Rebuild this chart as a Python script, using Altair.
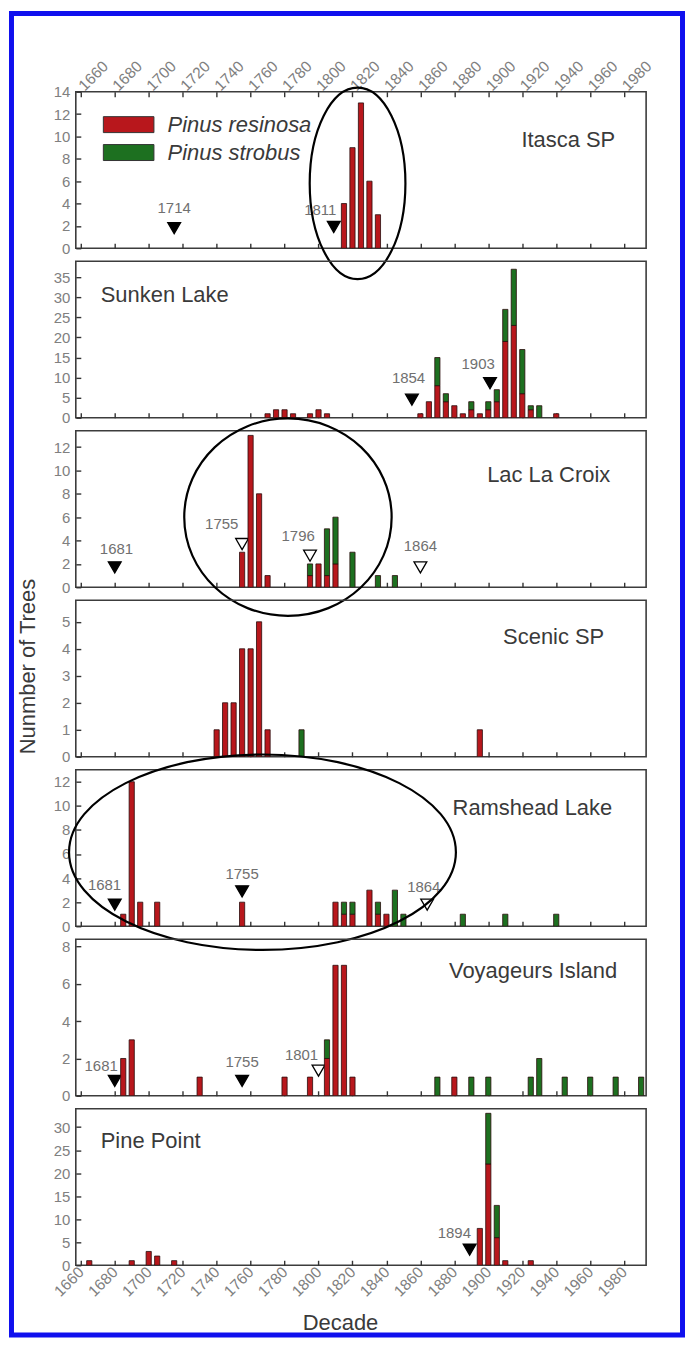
import altair as alt
import pandas as pd

# ---------------- data ----------------
SITES = ["Itasca SP", "Sunken Lake", "Lac La Croix", "Scenic SP",
         "Ramshead Lake", "Voyageurs Island", "Pine Point"]
SPECIES = ["Pinus resinosa", "Pinus strobus"]
X_TICKS = list(range(1660, 1981, 20))

# trees per 5-year class (class year: count)
RESINOSA = {
    "Itasca SP": {1815: 4, 1820: 9, 1825: 13, 1830: 6, 1835: 3},
    "Sunken Lake": {1770: 1, 1775: 2, 1780: 2, 1785: 1, 1795: 1, 1800: 2, 1805: 1,
                    1860: 1, 1865: 4, 1870: 8, 1875: 4, 1880: 3, 1885: 1, 1890: 2,
                    1895: 1, 1900: 2, 1905: 4, 1910: 19, 1915: 23, 1920: 6, 1925: 2,
                    1940: 1},
    "Lac La Croix": {1755: 3, 1760: 13, 1765: 8, 1770: 1, 1795: 1, 1800: 2, 1805: 1,
                     1810: 2},
    "Scenic SP": {1740: 1, 1745: 2, 1750: 2, 1755: 4, 1760: 4, 1765: 5, 1770: 1,
                  1895: 1},
    "Ramshead Lake": {1685: 1, 1690: 12, 1695: 2, 1705: 2, 1755: 2, 1810: 2, 1815: 1,
                      1820: 1, 1830: 3, 1835: 1, 1840: 1},
    "Voyageurs Island": {1685: 2, 1690: 3, 1730: 1, 1780: 1, 1795: 1, 1805: 2,
                         1810: 7, 1815: 7, 1820: 1, 1880: 1},
    "Pine Point": {1665: 1, 1690: 1, 1700: 3, 1705: 2, 1715: 1, 1895: 8, 1900: 22,
                   1905: 6, 1910: 1, 1925: 1},
}
STROBUS = {
    "Itasca SP": {},
    "Sunken Lake": {1870: 7, 1875: 2, 1890: 2, 1900: 2, 1905: 3, 1910: 8, 1915: 14,
                    1920: 11, 1925: 1, 1930: 3},
    "Lac La Croix": {1795: 1, 1805: 4, 1810: 4, 1820: 3, 1835: 1, 1845: 1},
    "Scenic SP": {1790: 1},
    "Ramshead Lake": {1815: 1, 1820: 1, 1835: 1, 1845: 3, 1850: 1, 1885: 1, 1910: 1,
                      1940: 1},
    "Voyageurs Island": {1805: 1, 1870: 1, 1890: 1, 1900: 1, 1925: 1, 1930: 2,
                         1945: 1, 1960: 1, 1975: 1, 1990: 1},
    "Pine Point": {1900: 11, 1905: 7},
}

Y_MAX = {"Itasca SP": 14, "Sunken Lake": 39, "Lac La Croix": 13.4, "Scenic SP": 5.8,
         "Ramshead Lake": 13, "Voyageurs Island": 8.4, "Pine Point": 34}
Y_TICKS = {"Itasca SP": list(range(0, 15, 2)), "Sunken Lake": list(range(0, 36, 5)),
           "Lac La Croix": list(range(0, 13, 2)), "Scenic SP": list(range(0, 6)),
           "Ramshead Lake": list(range(0, 13, 2)), "Voyageurs Island": list(range(0, 9, 2)),
           "Pine Point": list(range(0, 31, 5))}

# fire-year markers: (year position, height, open?, label, label year position, label height)
MARKERS = {
    "Itasca SP": [(1715, 1.8, False, "1714", 1715, 3.6),
                  (1809, 1.9, False, "1811", 1801, 3.4)],
    "Sunken Lake": [(1855, 4.5, False, "1854", 1853, 9.8),
                    (1901, 8.6, False, "1903", 1894, 13.4)],
    "Lac La Croix": [(1680, 1.7, False, "1681", 1681, 3.3),
                     (1755, 3.7, True, "1755", 1743, 5.4),
                     (1795, 2.7, True, "1796", 1788, 4.4),
                     (1860, 1.7, True, "1864", 1860, 3.5)],
    "Scenic SP": [],
    "Ramshead Lake": [(1680, 1.8, False, "1681", 1674, 3.4),
                      (1755, 2.9, False, "1755", 1755, 4.3),
                      (1864, 1.8, True, "1864", 1862, 3.3)],
    "Voyageurs Island": [(1680, 0.8, False, "1681", 1672, 1.6),
                         (1755, 0.8, False, "1755", 1755, 1.8),
                         (1800, 1.35, True, "1801", 1790, 2.2)],
    "Pine Point": [(1889, 3.4, False, "1894", 1880, 7.1)],
}

# hand-drawn ellipse annotations: centre (year, height)
ELLIPSES = {"Itasca SP": (1823, 5.8), "Lac La Croix": (1782, 6.0),
            "Ramshead Lake": (1767, 6.15)}

# ---------------- styles ----------------
W, H, GAP = 572, 157, 13
RED, GREEN = "#b8171c", "#1d7020"
TITLE_POS = {"Itasca SP": ("right", 541, 48), "Sunken Lake": ("left", 25, 34),
             "Lac La Croix": ("right", 536, 44), "Scenic SP": ("right", 530, 37),
             "Ramshead Lake": ("right", 538, 38), "Voyageurs Island": ("right", 543, 32),
             "Pine Point": ("left", 25, 32)}
ELLIPSE_R = {"Itasca SP": (48, 96), "Lac La Croix": (104, 99), "Ramshead Lake": (194, 98)}
LABEL_GRAY = "#808080"
TEXT_DARK = "#3a3a3a"
TICK_FONT = 15.5


def ellipse_path(rx, ry):
    return f"M {-rx} 0 A {rx} {ry} 0 1 1 {rx} 0 A {rx} {ry} 0 1 1 {-rx} 0 Z"


def xscale():
    return alt.Scale(domain=[1660, 1990], nice=False, zero=False)


def panel(i, site):
    first, last = i == 0, i == len(SITES) - 1
    ysc = alt.Scale(domain=[0, Y_MAX[site]], nice=False, zero=True)

    rows = []
    for k, (sp, src) in enumerate(zip(SPECIES, (RESINOSA, STROBUS))):
        for yr, n in src[site].items():
            rows.append({"decade": yr, "count": n, "species": sp, "ord": k})
    bars_df = pd.DataFrame(rows)

    bottom_axis = alt.Axis(
        orient="bottom", values=X_TICKS, format="d", offset=-5, tickSize=5,
        domain=False, grid=False, labels=last, labelAngle=315, labelAlign="right",
        labelBaseline="middle", labelPadding=4, labelFlush=False, labelOverlap=False,
        labelFontSize=TICK_FONT, labelColor=LABEL_GRAY,
        title="Decade" if last else None, titleFontSize=22, titleColor=TEXT_DARK,
        titleFontWeight="normal", titleX=265, titleY=62, titleBaseline="middle",
        titleAlign="center")
    top_axis = alt.Axis(
        orient="top", values=X_TICKS, format="d", offset=-5, tickSize=5, domain=False,
        grid=False, labelAngle=315, labelAlign="left", labelBaseline="middle",
        labelPadding=4, labelFlush=False, labelOverlap=False, labelFontSize=TICK_FONT,
        labelColor=LABEL_GRAY, title=None)
    y_axis = alt.Axis(
        values=Y_TICKS[site], offset=-5, tickSize=5, domain=False, grid=False,
        labelPadding=6, labelFontSize=15, labelColor=LABEL_GRAY, labelOverlap=False,
        title="Nunmber of Trees" if i == 3 else None, titleFontSize=22,
        titleColor=TEXT_DARK, titleFontWeight="normal", titleAngle=270,
        titleX=-41, titleY=66, titleBaseline="bottom", titleAlign="center")

    # in the first panel the x axes are independent (top + bottom)
    other_x_axis = None if first else bottom_axis

    color = alt.Color(
        "species:N", scale=alt.Scale(domain=SPECIES, range=[RED, GREEN]),
        legend=alt.Legend(
            title=None, orient="none", legendX=42, legendY=22, padding=0,
            symbolType="M -3.17 -1 L 3.17 -1 L 3.17 1 L -3.17 1 Z", symbolSize=256,
            symbolStrokeColor="#333333", symbolStrokeWidth=1, labelOffset=28,
            labelFontSize=22, labelFontStyle="italic", labelColor=TEXT_DARK,
            labelLimit=400, rowPadding=6) if first else None)

    bars = alt.Chart(bars_df).mark_bar(
        size=5.2, stroke="#2a0c0c", strokeWidth=0.8, clip=True).encode(
        x=alt.X("decade:Q", scale=xscale(), axis=bottom_axis),
        y=alt.Y("count:Q", stack="zero", scale=ysc, axis=y_axis),
        color=color,
        order=alt.Order("ord:Q"),
    )

    layers = []
    mk = MARKERS[site]
    if mk:
        mdf = pd.DataFrame(mk, columns=["mx", "my", "open", "lab", "lx", "ly"])
        tri = alt.Chart(mdf).mark_point(
            shape="triangle-down", filled=True, size=165, stroke="black",
            strokeWidth=1.3, opacity=1).encode(
            x=alt.X("mx:Q", scale=xscale(), axis=top_axis if first else bottom_axis),
            y=alt.Y("my:Q", scale=ysc, axis=y_axis),
            fill=alt.condition("datum.open", alt.value("white"), alt.value("black")),
        )
        txt = alt.Chart(mdf).mark_text(
            fontSize=15, color="#707070", align="center", baseline="middle").encode(
            x=alt.X("lx:Q", scale=xscale(), axis=other_x_axis),
            y=alt.Y("ly:Q", scale=ysc, axis=y_axis),
            text="lab:N",
        )
        layers += [txt, tri]

    al, tx, ty = TITLE_POS[site]
    title = alt.Chart(pd.DataFrame({"t": [site]})).mark_text(
        align=al, baseline="middle", fontSize=22, color=TEXT_DARK).encode(
        text="t:N", x=alt.value(tx), y=alt.value(ty))
    layers.append(title)
    layers.append(bars)

    if site in ELLIPSES:
        ex, ey = ELLIPSES[site]
        rx, ry = ELLIPSE_R[site]
        edf = pd.DataFrame({"ex": [ex], "ey": [ey]})
        ell = alt.Chart(edf).mark_point(
            shape=ellipse_path(rx, ry), size=4, filled=False, color="black",
            strokeWidth=2.2, opacity=1).encode(
            x=alt.X("ex:Q", scale=xscale(), axis=other_x_axis),
            y=alt.Y("ey:Q", scale=ysc, axis=y_axis))
        layers.append(ell)

    if first:
        frame = alt.Chart(pd.DataFrame({"k": [0]})).mark_rect(
            fillOpacity=0, stroke="#1010ee", strokeWidth=5).encode(
            x=alt.value(-64.5), x2=alt.value(608.5),
            y=alt.value(-78.5), y2=alt.value(1247))
        layers.append(frame)

    ch = alt.layer(*layers).properties(width=W, height=H)
    if first:
        ch = ch.resolve_axis(x="independent")
    return ch


panels = [panel(i, s) for i, s in enumerate(SITES)]

chart = alt.vconcat(*panels, spacing=GAP, bounds="flush").properties(
    padding=0
).configure(font="Liberation Sans").configure_view(
    stroke="#3c3c3c", strokeWidth=1.6
).configure_axis(
    tickColor="#333333", tickWidth=1.4, labelFont="Liberation Sans",
    titleFont="Liberation Sans"
)

chart.save("out.html", embed_options={"renderer": "svg", "actions": False})
